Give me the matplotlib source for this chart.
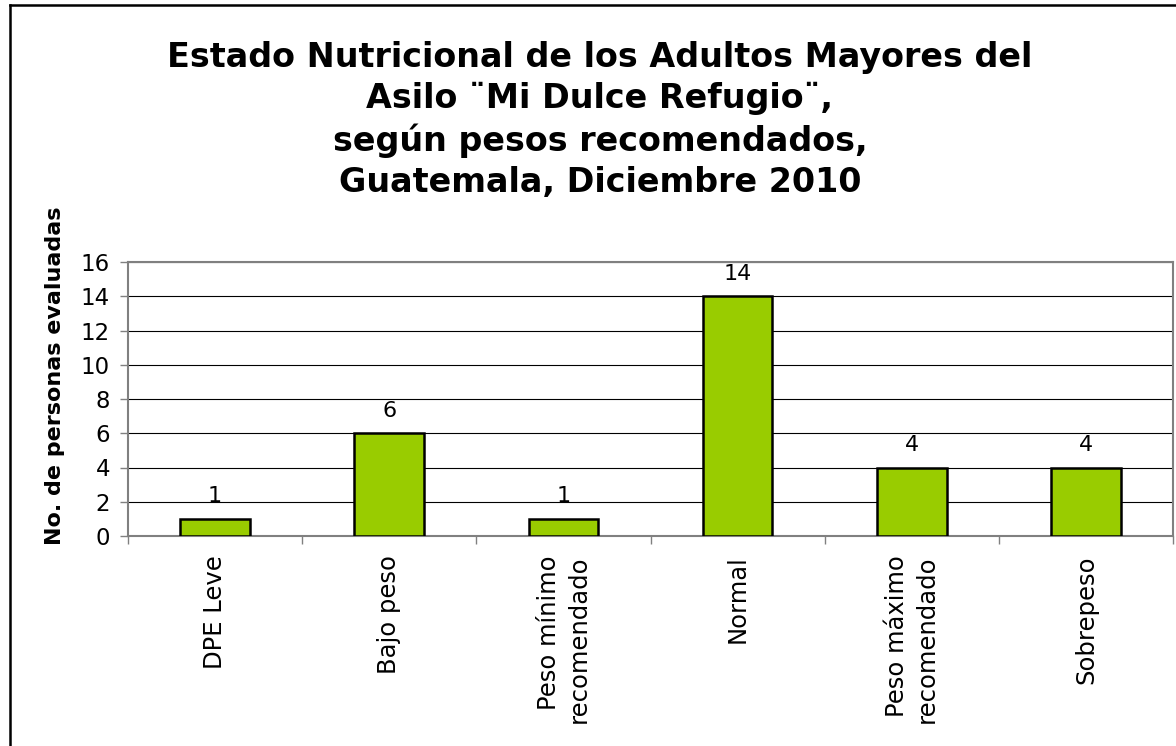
import numpy as np
import matplotlib.pyplot as plt
from matplotlib.lines import Line2D

# data
categories = ["DPE Leve", "Bajo peso", "Peso mínimo\nrecomendado", "Normal",
              "Peso máximo\nrecomendado", "Sobrepeso"]
counts = [1, 6, 1, 14, 4, 4]
y_ticks = [0, 2, 4, 6, 8, 10, 12, 14, 16]

title = ("Estado Nutricional de los Adultos Mayores del\n"
         "Asilo \u00a8Mi Dulce Refugio\u00a8,\n"
         "según pesos recomendados,\n"
         "Guatemala, Diciembre 2010")

plt.rcParams["font.family"] = "DejaVu Sans"

fig = plt.figure(figsize=(11.76, 7.46), dpi=100)
ax = fig.add_axes([128 / 1176, 1 - 536 / 746, (1173 - 128) / 1176, (536 - 262) / 746])

x = np.arange(len(categories))
bars = ax.bar(x, counts, width=0.4, color="#99CC00", edgecolor="black",
              linewidth=1.8, zorder=3)

# value labels
for xi, v in zip(x, counts):
    ax.annotate(str(v), (xi, v), xytext=(0, 12), textcoords="offset points",
                ha="center", va="baseline", fontsize=16)

ax.set_xlim(-0.5, len(categories) - 0.5)
ax.set_ylim(0, 16)
ax.set_yticks(y_ticks)
ax.yaxis.grid(True, color="black", linewidth=0.8, zorder=0)
ax.set_axisbelow(True)

# category ticks at the boundaries, labels centred on bars
ax.set_xticks(np.arange(len(categories) + 1) - 0.5)
ax.set_xticklabels([])
ax.set_xticks(x, minor=True)
ax.set_xticklabels(categories, minor=True, rotation=90, fontsize=17.5,
                   multialignment="right", linespacing=1.3)
ax.tick_params(axis="x", which="minor", length=0, pad=14)
ax.tick_params(axis="x", which="major", length=6, color="#808080", width=1)
ax.tick_params(axis="y", length=6, color="#808080", width=1, labelsize=16.5, pad=7)

for s in ax.spines.values():
    s.set_color("#808080")
    s.set_linewidth(1.5)

ax.set_ylabel("No. de personas evaluadas", fontsize=16, fontweight="bold")
ax.yaxis.set_label_coords(-0.06, 0.585)

fig.text(600 / 1176, 1 - 120 / 746, title, ha="center", va="center",
         fontsize=24, fontweight="bold", linespacing=1.3)

# outer frame (top and left edges visible)
fig.add_artist(Line2D([10 / 1176, 10 / 1176], [0, 1 - 5 / 746],
                      transform=fig.transFigure, color="black", linewidth=1.8))
fig.add_artist(Line2D([10 / 1176, 1], [1 - 5 / 746, 1 - 5 / 746],
                      transform=fig.transFigure, color="black", linewidth=1.8))

fig.savefig("out.png", dpi=100)
